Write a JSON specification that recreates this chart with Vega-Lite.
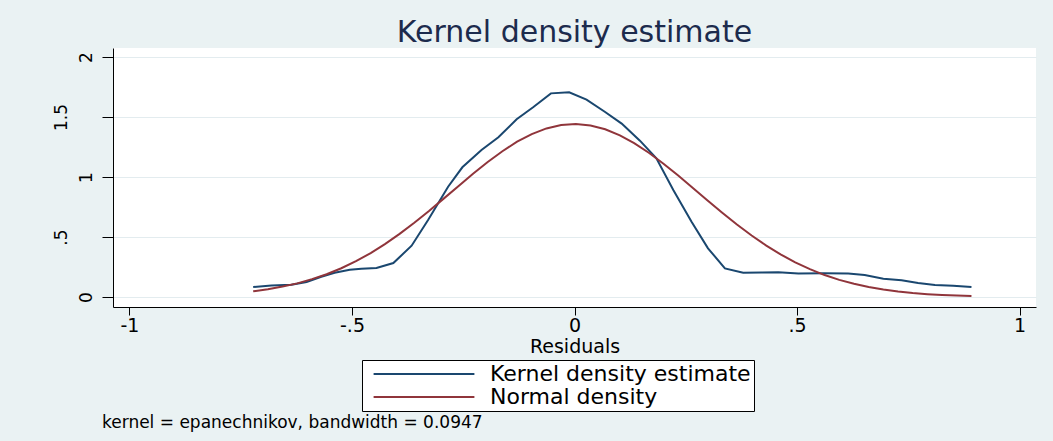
{
  "$schema": "https://vega.github.io/schema/vega-lite/v6.json",
  "background": "#EAF2F3",
  "padding": {"left": 51, "top": 18, "right": 19, "bottom": 11},
  "title": {"text": "kernel = epanechnikov, bandwidth = 0.0947", "orient": "bottom", "anchor": "start", "frame": "group", "fontSize": 17, "fontWeight": "normal", "color": "#000000", "font": "DejaVu Sans", "offset": 3, "dx": -11},
  "config": {
    "font": "DejaVu Sans",
    "view": {"stroke": null, "fill": "#FFFFFF"},
    "axis": {"domainColor": "#000000", "tickColor": "#000000", "labelColor": "#000000", "titleColor": "#000000", "labelFont": "DejaVu Sans", "titleFont": "DejaVu Sans", "titleFontWeight": "normal", "domainWidth": 1, "tickWidth": 1}
  },
  "vconcat": [
    {
      "width": 923,
      "height": 259,
      "title": {"text": "Kernel density estimate", "anchor": "middle", "frame": "group", "fontSize": 30, "fontWeight": "normal", "color": "#1C2B4D", "font": "DejaVu Sans", "offset": 0},
      "data": {"values": [
        {"x": -0.722, "density": 0.083, "series": "Kernel density estimate"},
        {"x": -0.681, "density": 0.097, "series": "Kernel density estimate"},
        {"x": -0.636, "density": 0.103, "series": "Kernel density estimate"},
        {"x": -0.602, "density": 0.125, "series": "Kernel density estimate"},
        {"x": -0.569, "density": 0.169, "series": "Kernel density estimate"},
        {"x": -0.539, "density": 0.203, "series": "Kernel density estimate"},
        {"x": -0.505, "density": 0.228, "series": "Kernel density estimate"},
        {"x": -0.479, "density": 0.236, "series": "Kernel density estimate"},
        {"x": -0.445, "density": 0.242, "series": "Kernel density estimate"},
        {"x": -0.407, "density": 0.283, "series": "Kernel density estimate"},
        {"x": -0.366, "density": 0.428, "series": "Kernel density estimate"},
        {"x": -0.329, "density": 0.642, "series": "Kernel density estimate"},
        {"x": -0.284, "density": 0.919, "series": "Kernel density estimate"},
        {"x": -0.252, "density": 1.081, "series": "Kernel density estimate"},
        {"x": -0.209, "density": 1.225, "series": "Kernel density estimate"},
        {"x": -0.171, "density": 1.331, "series": "Kernel density estimate"},
        {"x": -0.130, "density": 1.481, "series": "Kernel density estimate"},
        {"x": -0.093, "density": 1.581, "series": "Kernel density estimate"},
        {"x": -0.053, "density": 1.697, "series": "Kernel density estimate"},
        {"x": -0.012, "density": 1.706, "series": "Kernel density estimate"},
        {"x": 0.027, "density": 1.645, "series": "Kernel density estimate"},
        {"x": 0.068, "density": 1.544, "series": "Kernel density estimate"},
        {"x": 0.106, "density": 1.445, "series": "Kernel density estimate"},
        {"x": 0.147, "density": 1.303, "series": "Kernel density estimate"},
        {"x": 0.184, "density": 1.156, "series": "Kernel density estimate"},
        {"x": 0.222, "density": 0.892, "series": "Kernel density estimate"},
        {"x": 0.263, "density": 0.628, "series": "Kernel density estimate"},
        {"x": 0.300, "density": 0.406, "series": "Kernel density estimate"},
        {"x": 0.338, "density": 0.239, "series": "Kernel density estimate"},
        {"x": 0.379, "density": 0.203, "series": "Kernel density estimate"},
        {"x": 0.420, "density": 0.204, "series": "Kernel density estimate"},
        {"x": 0.458, "density": 0.206, "series": "Kernel density estimate"},
        {"x": 0.503, "density": 0.197, "series": "Kernel density estimate"},
        {"x": 0.560, "density": 0.198, "series": "Kernel density estimate"},
        {"x": 0.615, "density": 0.197, "series": "Kernel density estimate"},
        {"x": 0.652, "density": 0.183, "series": "Kernel density estimate"},
        {"x": 0.694, "density": 0.153, "series": "Kernel density estimate"},
        {"x": 0.735, "density": 0.139, "series": "Kernel density estimate"},
        {"x": 0.772, "density": 0.117, "series": "Kernel density estimate"},
        {"x": 0.810, "density": 0.100, "series": "Kernel density estimate"},
        {"x": 0.851, "density": 0.094, "series": "Kernel density estimate"},
        {"x": 0.892, "density": 0.083, "series": "Kernel density estimate"},
        {"x": -0.722, "density": 0.048, "series": "Normal density"},
        {"x": -0.689, "density": 0.065, "series": "Normal density"},
        {"x": -0.656, "density": 0.087, "series": "Normal density"},
        {"x": -0.623, "density": 0.114, "series": "Normal density"},
        {"x": -0.590, "density": 0.149, "series": "Normal density"},
        {"x": -0.557, "density": 0.190, "series": "Normal density"},
        {"x": -0.524, "density": 0.240, "series": "Normal density"},
        {"x": -0.491, "density": 0.299, "series": "Normal density"},
        {"x": -0.458, "density": 0.366, "series": "Normal density"},
        {"x": -0.426, "density": 0.441, "series": "Normal density"},
        {"x": -0.393, "density": 0.526, "series": "Normal density"},
        {"x": -0.360, "density": 0.619, "series": "Normal density"},
        {"x": -0.327, "density": 0.717, "series": "Normal density"},
        {"x": -0.294, "density": 0.820, "series": "Normal density"},
        {"x": -0.261, "density": 0.924, "series": "Normal density"},
        {"x": -0.228, "density": 1.027, "series": "Normal density"},
        {"x": -0.195, "density": 1.125, "series": "Normal density"},
        {"x": -0.162, "density": 1.215, "series": "Normal density"},
        {"x": -0.129, "density": 1.294, "series": "Normal density"},
        {"x": -0.096, "density": 1.358, "series": "Normal density"},
        {"x": -0.063, "density": 1.405, "series": "Normal density"},
        {"x": -0.030, "density": 1.434, "series": "Normal density"},
        {"x": 0.003, "density": 1.442, "series": "Normal density"},
        {"x": 0.036, "density": 1.430, "series": "Normal density"},
        {"x": 0.069, "density": 1.398, "series": "Normal density"},
        {"x": 0.102, "density": 1.347, "series": "Normal density"},
        {"x": 0.134, "density": 1.283, "series": "Normal density"},
        {"x": 0.167, "density": 1.202, "series": "Normal density"},
        {"x": 0.200, "density": 1.111, "series": "Normal density"},
        {"x": 0.233, "density": 1.012, "series": "Normal density"},
        {"x": 0.266, "density": 0.909, "series": "Normal density"},
        {"x": 0.299, "density": 0.804, "series": "Normal density"},
        {"x": 0.332, "density": 0.702, "series": "Normal density"},
        {"x": 0.365, "density": 0.604, "series": "Normal density"},
        {"x": 0.398, "density": 0.513, "series": "Normal density"},
        {"x": 0.431, "density": 0.429, "series": "Normal density"},
        {"x": 0.463, "density": 0.356, "series": "Normal density"},
        {"x": 0.496, "density": 0.289, "series": "Normal density"},
        {"x": 0.529, "density": 0.232, "series": "Normal density"},
        {"x": 0.562, "density": 0.183, "series": "Normal density"},
        {"x": 0.595, "density": 0.143, "series": "Normal density"},
        {"x": 0.628, "density": 0.110, "series": "Normal density"},
        {"x": 0.661, "density": 0.083, "series": "Normal density"},
        {"x": 0.694, "density": 0.062, "series": "Normal density"},
        {"x": 0.727, "density": 0.046, "series": "Normal density"},
        {"x": 0.760, "density": 0.033, "series": "Normal density"},
        {"x": 0.793, "density": 0.024, "series": "Normal density"},
        {"x": 0.826, "density": 0.017, "series": "Normal density"},
        {"x": 0.859, "density": 0.012, "series": "Normal density"},
        {"x": 0.892, "density": 0.008, "series": "Normal density"}
      ]},
      "mark": {"type": "line", "strokeWidth": 2, "clip": true},
      "encoding": {
        "x": {"field": "x", "type": "quantitative",
          "scale": {"domain": [-1.037, 1.037], "nice": false, "zero": false},
          "axis": {"values": [-1, -0.5, 0, 0.5, 1], "labelExpr": "datum.value == 0 ? '0' : replace(toString(datum.value), '0.', '.')", "title": "Residuals", "grid": false, "tickSize": 8, "labelPadding": 1, "labelFontSize": 19, "titleFontSize": 19, "titlePadding": 2, "labelFlush": false}},
        "y": {"field": "density", "type": "quantitative",
          "scale": {"domain": [-0.083, 2.075], "nice": false, "zero": false},
          "axis": {"values": [0, 0.5, 1, 1.5, 2], "labelExpr": "datum.value == 0 ? '0' : replace(toString(datum.value), '0.', '.')", "title": null, "grid": true, "gridColor": "#E3ECEF", "gridWidth": 1, "tickSize": 11, "labelAngle": -90, "labelAlign": "center", "labelBaseline": "alphabetic", "labelFontSize": 17, "labelPadding": {"condition": {"test": "datum.value % 1 !== 0", "value": 36}, "value": 11}}},
        "color": {"field": "series", "type": "nominal",
          "scale": {"domain": ["Kernel density estimate", "Normal density"], "range": ["#1A476F", "#90353B"]},
          "legend": {"orient": "none", "legendX": 249, "legendY": 312, "title": null, "direction": "vertical", "fillColor": "#FFFFFF", "strokeColor": "#000000", "padding": 3, "symbolType": "M-5.6,0H5.6", "symbolSize": 324, "symbolStrokeWidth": 2, "symbolOffset": 48, "labelOffset": 55, "labelFontSize": 22, "labelColor": "#000000", "labelFont": "DejaVu Sans", "rowPadding": 1, "labelLimit": 400}}
      }
    }
  ]
}
